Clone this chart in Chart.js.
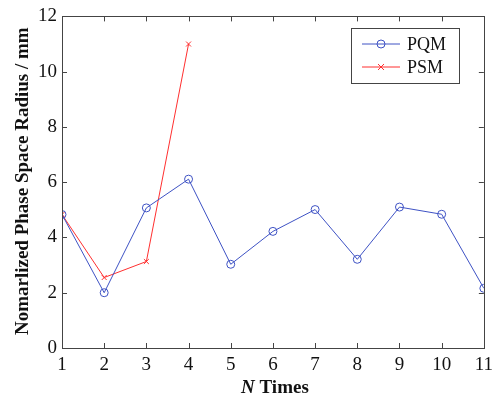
<!DOCTYPE html>
<html>
<head>
<meta charset="utf-8">
<script src="https://cdn.jsdelivr.net/npm/chart.js@4.4.1/dist/chart.umd.min.js"></script>
<style>
  body { margin: 0; background: #fff; }
  #wrap { width: 499px; height: 396px; }
</style>
</head>
<body>
<div id="wrap"><canvas id="grafico" width="499" height="396"></canvas></div>
<script>
// datos
const vecesN = [1, 2, 3, 4, 5, 6, 7, 8, 9, 10, 11];
const radioPQM = [4.83, 2.0, 5.07, 6.11, 3.03, 4.22, 5.01, 3.21, 5.1, 4.84, 2.16];
const vecesPSM = [1, 2, 3, 4];
const radioPSM = [4.83, 2.55, 3.13, 11.0];
const ticksY = [0, 2, 4, 6, 8, 10, 12];

const FUENTE = "'Liberation Serif', 'DejaVu Serif', serif";
const AZUL = '#3e52c4';
const ROJO = '#ff2f2f';
const EJE = '#444';

// ticks hacia adentro + marco completo + titulos + leyenda
const estiloMatlab = {
    id: 'estiloMatlab',
    afterDraw(chart) {
        const ctx = chart.ctx;
        const area = chart.chartArea;
        const sx = chart.scales.x;
        const sy = chart.scales.y;
        ctx.save();
        ctx.strokeStyle = EJE;
        ctx.lineWidth = 1;
        ctx.beginPath();
        sx.ticks.forEach(t => {
            const px = Math.round(sx.getPixelForValue(t.value)) + 0.5;
            ctx.moveTo(px, area.bottom); ctx.lineTo(px, area.bottom - 5);
            ctx.moveTo(px, area.top); ctx.lineTo(px, area.top + 5);
        });
        sy.ticks.forEach(t => {
            const py = Math.round(sy.getPixelForValue(t.value)) + 0.5;
            ctx.moveTo(area.left, py); ctx.lineTo(area.left + 5, py);
            ctx.moveTo(area.right, py); ctx.lineTo(area.right - 5, py);
        });
        ctx.stroke();
        ctx.strokeRect(Math.round(area.left) + 0.5, Math.round(area.top) + 0.5,
            Math.round(area.right - area.left), Math.round(area.bottom - area.top));

        // titulo eje Y
        ctx.fillStyle = '#111';
        ctx.font = 'bold 19px ' + FUENTE;
        ctx.textAlign = 'center';
        ctx.textBaseline = 'middle';
        ctx.save();
        ctx.translate(23, (area.top + area.bottom) / 2 - 1);
        ctx.rotate(-Math.PI / 2);
        ctx.fillText('Nomarlized Phase Space Radius / mm', 0, 0);
        ctx.restore();

        // titulo eje X: "N" en cursiva
        const cx = (area.left + area.right) / 2 + 2;
        ctx.font = 'italic bold 19px ' + FUENTE;
        const wN = ctx.measureText('N').width;
        ctx.font = 'bold 19px ' + FUENTE;
        const wT = ctx.measureText(' Times').width;
        const x0 = cx - (wN + wT) / 2;
        ctx.textAlign = 'left';
        ctx.font = 'italic bold 19px ' + FUENTE;
        ctx.fillText('N', x0, 388);
        ctx.font = 'bold 19px ' + FUENTE;
        ctx.fillText(' Times', x0 + wN, 388);

        // leyenda
        const lx = 351.5, ly = 28.5, lw = 108, lh = 55;
        ctx.fillStyle = '#fff';
        ctx.fillRect(lx, ly, lw, lh);
        ctx.strokeStyle = EJE;
        ctx.strokeRect(lx, ly, lw, lh);
        const items = chart.data.datasets;
        items.forEach((ds, i) => {
            const y = 44 + i * 23;
            ctx.strokeStyle = ds.borderColor;
            ctx.lineWidth = 1;
            ctx.beginPath();
            ctx.moveTo(362, y); ctx.lineTo(400, y);
            ctx.stroke();
            ctx.beginPath();
            if (ds.pointStyle === 'circle') {
                ctx.arc(381, y, 4, 0, Math.PI * 2);
            } else {
                ctx.moveTo(378, y - 3); ctx.lineTo(384, y + 3);
                ctx.moveTo(384, y - 3); ctx.lineTo(378, y + 3);
            }
            ctx.stroke();
            ctx.fillStyle = '#111';
            ctx.font = '18px ' + FUENTE;
            ctx.textAlign = 'left';
            ctx.textBaseline = 'middle';
            ctx.fillText(ds.label, 407, y + 1);
        });
        ctx.restore();
    }
};

new Chart(document.getElementById('grafico'), {
    type: 'line',
    data: {
        datasets: [{
            label: 'PQM',
            data: vecesN.map((n, i) => ({ x: n, y: radioPQM[i] })),
            borderColor: AZUL,
            borderWidth: 1,
            pointStyle: 'circle',
            pointRadius: 4,
            pointBorderWidth: 1,
            pointBorderColor: AZUL,
            pointBackgroundColor: 'rgba(0,0,0,0)',
            tension: 0
        }, {
            label: 'PSM',
            data: vecesPSM.map((n, i) => ({ x: n, y: radioPSM[i] })),
            borderColor: ROJO,
            borderWidth: 1,
            pointStyle: 'crossRot',
            pointRadius: 3.5,
            pointBorderWidth: 1,
            pointBorderColor: ROJO,
            tension: 0
        }]
    },
    options: {
        responsive: false,
        animation: false,
        layout: { padding: { top: 15, right: 13, left: 0, bottom: 0 } },
        plugins: {
            legend: { display: false },
            tooltip: { enabled: false }
        },
        scales: {
            x: {
                type: 'linear',
                min: 1,
                max: 11,
                ticks: {
                    stepSize: 1,
                    color: '#111',
                    padding: 6,
                    font: { family: FUENTE, size: 19 }
                },
                grid: { display: false, drawTicks: false },
                border: { display: false },
                afterFit(scale) { scale.height = 48; }
            },
            y: {
                min: 0,
                max: 12,
                afterBuildTicks(scale) { scale.ticks = ticksY.map(v => ({ value: v })); },
                ticks: {
                    color: '#111',
                    padding: 5,
                    font: { family: FUENTE, size: 19 }
                },
                grid: { display: false, drawTicks: false },
                border: { display: false },
                afterFit(scale) { scale.width = 62; }
            }
        }
    },
    plugins: [estiloMatlab]
});
</script>
</body>
</html>
